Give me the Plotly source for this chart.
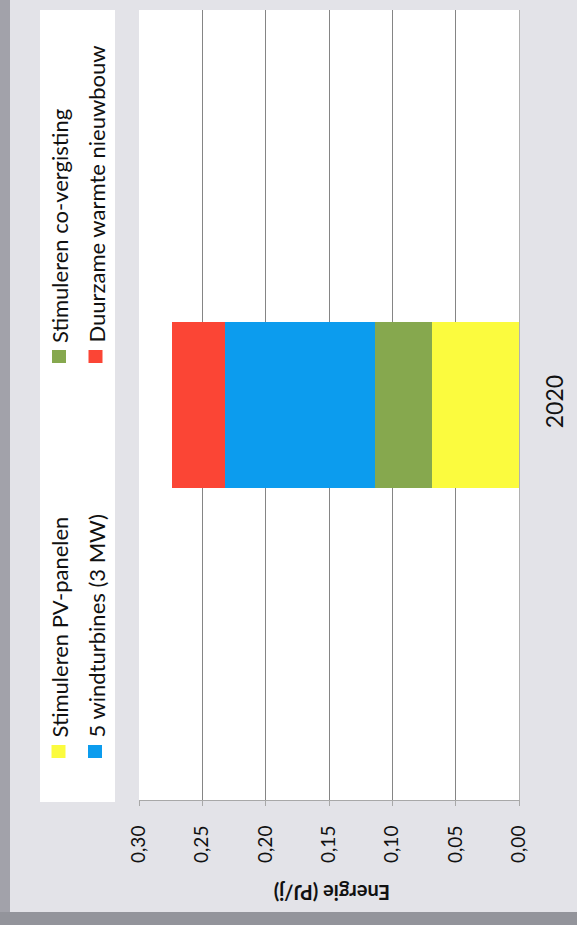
import plotly.graph_objects as go

# ---- data ----
categories = ["2020"]
series_names = ["Stimuleren PV-panelen", "Stimuleren co-vergisting",
                "5 windturbines (3 MW)", "Duurzame warmte nieuwbouw"]
pv_panelen = [0.069]
co_vergisting = [0.045]
windturbines = [0.118]
duurzame_warmte = [0.042]
series_values = [pv_panelen, co_vergisting, windturbines, duurzame_warmte]
series_colors = ["#fbfb3e", "#86a84e", "#0c9cee", "#fb4535"]
tick_values = [0.0, 0.05, 0.10, 0.15, 0.20, 0.25, 0.30]
axis_title = "Energie (PJ/j)"

W, H = 577, 925
L, R, T, B = 139, 58, 10, 125
PW, PH = W - L - R, H - T - B

def px(xp):
    return (xp - L) / PW

def py(yp):
    return (H - B - yp) / PH

FONT = "Lato"

fig = go.Figure()
for name, vals, col in zip(series_names, series_values, series_colors):
    fig.add_trace(go.Bar(
        y=categories, x=vals, name=name, orientation="h",
        marker=dict(color=col, line=dict(width=0)), width=0.211,
        showlegend=False,
    ))

shapes = []
# scan border strips
shapes.append(dict(type="rect", xref="paper", yref="paper",
                   x0=px(0), x1=px(10), y0=py(0), y1=py(H),
                   fillcolor="#a2a2aa", line=dict(width=0), layer="below"))
shapes.append(dict(type="rect", xref="paper", yref="paper",
                   x0=px(0), x1=px(W), y0=py(912), y1=py(H),
                   fillcolor="#93949b", line=dict(width=0), layer="below"))
# legend box
shapes.append(dict(type="rect", xref="paper", yref="paper",
                   x0=px(40), x1=px(115), y0=py(802), y1=py(10),
                   fillcolor="white", line=dict(width=0), layer="below"))

# legend items: (column x-center of swatch, row swatch top y)
legend_pos = [(58.5, 745), (59, 350), (95, 745), (95.5, 350)]
text_x = [59, 59, 96, 96]
for i, (name, col) in enumerate(zip(series_names, series_colors)):
    cx, sy = legend_pos[i]
    shapes.append(dict(type="rect", xref="paper", yref="paper",
                       x0=px(cx - 7), x1=px(cx + 7), y0=py(sy + 13), y1=py(sy),
                       fillcolor=col, line=dict(width=0)))

annotations = []
for i, name in enumerate(series_names):
    sy = legend_pos[i][1]
    annotations.append(dict(
        text=name, xref="paper", yref="paper", x=px(text_x[i]), y=py(sy - 5),
        xanchor="center", yanchor="bottom", textangle=-90, showarrow=False,
        font=dict(family=FONT, size=22, color="#111111")))

annotations.append(dict(
    text="<b>" + axis_title + "</b>", xref="paper", yref="paper",
    x=px(332), y=py(893), xanchor="center", yanchor="middle",
    textangle=180, showarrow=False,
    font=dict(family=FONT, size=20, color="#111111")))

fig.update_layout(
    width=W, height=H,
    margin=dict(l=L, r=R, t=T, b=B, pad=0, autoexpand=False),
    paper_bgcolor="#e3e3e8",
    plot_bgcolor="white",
    barmode="stack",
    separators=", ",
    shapes=shapes,
    annotations=annotations,
    xaxis=dict(
        range=[0.30, 0.0], tickvals=tick_values, tickformat=".2f",
        tickangle=-90, showgrid=True, gridcolor="#858585", gridwidth=1,
        showline=True, linecolor="#a8a8a8", linewidth=1,
        ticks="outside", ticklen=5, tickcolor="#a8a8a8",
        ticklabelstandoff=12, zeroline=False, automargin=False,
        tickfont=dict(family=FONT, size=19, color="#111111"),
    ),
    yaxis=dict(
        side="right", range=[-0.5, 0.5], tickangle=-90,
        showgrid=False, showline=True, linecolor="#b0b0b0", linewidth=1,
        ticks="", ticklabelstandoff=15, automargin=False,
        tickfont=dict(family=FONT, size=23, color="#111111"),
    ),
)

fig.write_html("out.html")
